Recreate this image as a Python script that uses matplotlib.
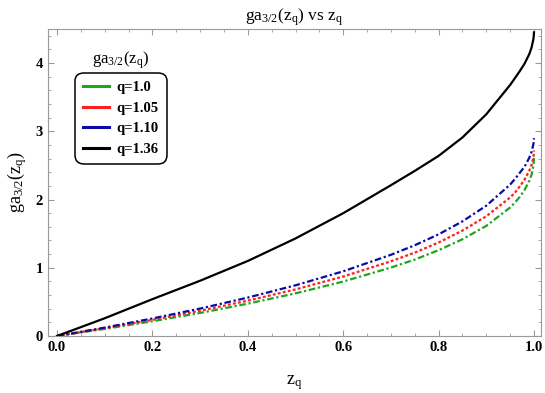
import numpy as np
import matplotlib
matplotlib.use("Agg")
import matplotlib.pyplot as plt
from matplotlib.ticker import MultipleLocator

plt.rcParams["font.family"] = ["Liberation Serif", "DejaVu Serif"]
plt.rcParams["mathtext.fontset"] = "stix"

# values
z = [0.0, 0.1, 0.2, 0.3, 0.4, 0.5, 0.6, 0.7, 0.75, 0.8, 0.85, 0.9, 0.95, 0.96, 0.97, 0.98, 0.99, 0.995, 0.999, 1.0]
g_q100 = [0.0, 0.104, 0.216, 0.338, 0.474, 0.625, 0.798, 1.003, 1.120, 1.258, 1.418, 1.614, 1.884, 1.955, 2.038, 2.138, 2.271, 2.368, 2.50, 2.61]
g_q105 = [0.0, 0.113, 0.236, 0.370, 0.518, 0.683, 0.872, 1.095, 1.222, 1.370, 1.545, 1.755, 2.030, 2.100, 2.190, 2.290, 2.420, 2.510, 2.63, 2.72]
g_q110 = [0.0, 0.123, 0.257, 0.402, 0.563, 0.743, 0.948, 1.190, 1.330, 1.490, 1.680, 1.910, 2.220, 2.300, 2.390, 2.480, 2.610, 2.700, 2.82, 2.90]
g_q136 = [0.0, 0.26, 0.54, 0.81, 1.10, 1.43, 1.80, 2.21, 2.42, 2.64, 2.91, 3.25, 3.68, 3.78, 3.88, 3.99, 4.13, 4.23, 4.36, 4.45]

labels = ["q=1.0", "q=1.05", "q=1.10", "q=1.36"]
colors = ["#1ea51e", "#ff1f1f", "#0a0aa8", "#000000"]

lab = r"$\mathregular{ga_{3/2}(z_q)}$"

fig = plt.figure(figsize=(5.45, 3.93), dpi=100)
ax = fig.add_axes([48 / 545, 57 / 393, 493 / 545, 307 / 393])

ax.plot(z, g_q100, color=colors[0], lw=1.6, dashes=(3.0, 1.2, 1.0, 1.2))
ax.plot(z, g_q105, color=colors[1], lw=1.6, dashes=(1.3, 1.0))
ax.plot(z, g_q110, color=colors[2], lw=1.6, dashes=(3.0, 1.2, 1.0, 1.2))
ax.plot(z, g_q136, color=colors[3], lw=1.6)

ax.set_xlim(-0.0189, 1.0147)
ax.set_ylim(0, 4.5)

ax.xaxis.set_major_locator(MultipleLocator(0.2))
ax.xaxis.set_minor_locator(MultipleLocator(0.05))
ax.yaxis.set_major_locator(MultipleLocator(1))
ax.yaxis.set_minor_locator(MultipleLocator(0.2))
ax.set_xticks([0.0, 0.2, 0.4, 0.6, 0.8, 1.0])
ax.set_xticklabels(["0.0", "0.2", "0.4", "0.6", "0.8", "1.0"])
ax.tick_params(which="both", direction="in", top=True, right=True, color="#999999")
ax.tick_params(which="major", length=4, width=0.8, labelsize=10.5)
ax.tick_params(which="minor", length=2, width=0.6)
for t in ax.get_xticklabels() + ax.get_yticklabels():
    t.set_fontweight("bold")
for s in ax.spines.values():
    s.set_color("#999999")
    s.set_linewidth(0.8)

ax.set_title(lab + " vs " + r"$\mathregular{z_q}$", fontsize=12.5, pad=6)
ax.set_xlabel(r"$\mathregular{z_q}$", fontsize=13, labelpad=14)
ax.set_ylabel(lab, fontsize=13, labelpad=5)

handles = [plt.Line2D([], [], color=c, lw=2.2) for c in colors]
leg = ax.legend(handles, labels, loc="upper left", bbox_to_anchor=(0.055, 0.857),
                borderaxespad=0, prop={"weight": "bold", "size": 10.5},
                handlelength=1.8, handletextpad=0.5,
                fancybox=True, framealpha=1, edgecolor="black",
                borderpad=0.55, labelspacing=0.5)
leg.get_frame().set_linewidth(1.1)
leg.get_frame().set_boxstyle("round", pad=0.02, rounding_size=0.6)
ax.text(0.147, 0.899, lab, transform=ax.transAxes, fontsize=12, ha="center", va="center")

fig.savefig("out.png", dpi=100)
